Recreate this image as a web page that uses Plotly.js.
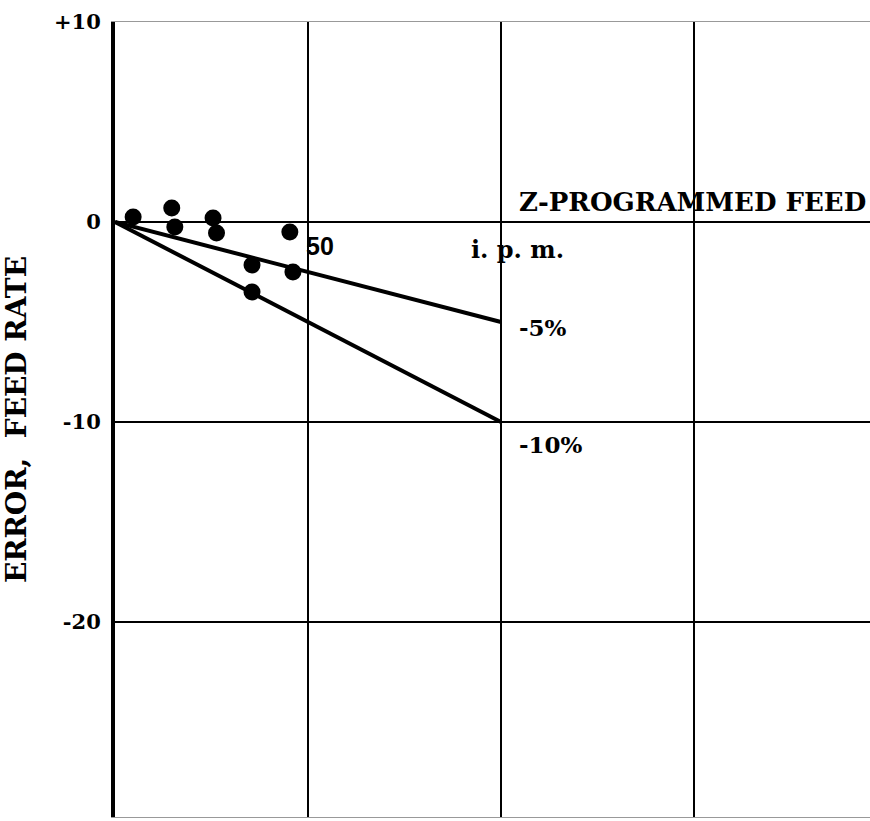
<!DOCTYPE html>
<html>
<head>
<meta charset="utf-8">
<script src="https://cdn.plot.ly/plotly-3.0.1.min.js"></script>
<style>html,body{margin:0;padding:0;background:#fff;}#chart{width:870px;height:821px;}</style>
</head>
<body>
<div id="chart"></div>
<script>
// Measured data points (feed in i.p.m., error in %)
const pointsX = [4.7, 14.7, 15.5, 25.4, 26.3, 45.3, 35.5, 46.1, 35.5];
const pointsY = [0.25, 0.7, -0.25, 0.2, -0.55, -0.5, -2.15, -2.5, -3.5];
// Reference error lines
const lineX = [0, 100];
const line5Y = [0, -5];
const line10Y = [0, -10];
const lineLabels = ['-5%', '-10%'];
// Axis ticks
const yTickVals = [-20, -10, 0, 10];
const yTickText = ['-20', '-10', '0', '+10'];
const xGridVals = [0, 50, 100, 150];

const serif = 'DejaVu Serif, serif';

const traces = [
  {x: lineX, y: line5Y, mode: 'lines', line: {color: '#000', width: 4}, hoverinfo: 'skip'},
  {x: lineX, y: line10Y, mode: 'lines', line: {color: '#000', width: 4}, hoverinfo: 'skip'},
  {x: pointsX, y: pointsY, mode: 'markers', marker: {color: '#000', size: 17}}
];

const layout = {
  width: 870, height: 821,
  margin: {l: 115, r: 0, t: 22, b: 4},
  paper_bgcolor: '#fff', plot_bgcolor: '#fff',
  showlegend: false,
  xaxis: {
    range: [0, 195.6],
    tickvals: xGridVals,
    showticklabels: false,
    showgrid: true, gridcolor: '#000', gridwidth: 2,
    zeroline: false,
    showline: true, mirror: true, linecolor: '#999', linewidth: 1,
    ticks: ''
  },
  yaxis: {
    range: [-29.75, 10],
    tickvals: yTickVals, ticktext: yTickText,
    showgrid: true, gridcolor: '#000', gridwidth: 2,
    zeroline: false,
    showline: true, linecolor: '#000', linewidth: 4,
    ticks: '', ticklabelstandoff: 6,
    tickfont: {family: serif, size: 21, color: '#000', weight: 'bold'},
    title: {text: 'ERROR,  FEED RATE', font: {family: serif, size: 28, color: '#000', weight: 'bold'}, standoff: 28}
  },
  annotations: [
    {x: 1, xref: 'paper', y: 0, yref: 'y', yanchor: 'bottom', xanchor: 'right', yshift: 3, xshift: -2,
     text: 'Z-PROGRAMMED FEED', showarrow: false,
     font: {family: serif, size: 26, color: '#000', weight: 'bold'}},
    {x: xGridVals[1], y: 0, xanchor: 'left', yanchor: 'top', xshift: -4, yshift: -8,
     text: '50', showarrow: false,
     font: {family: 'Liberation Sans, Arial, sans-serif', size: 25, color: '#000', weight: 'bold'}},
    {x: xGridVals[2], y: 0, xanchor: 'center', yanchor: 'top', xshift: 17, yshift: -11,
     text: 'i. p. m.', showarrow: false,
     font: {family: serif, size: 24, color: '#000', weight: 'bold'}},
    {x: lineX[1], y: line5Y[1], xanchor: 'left', yanchor: 'middle', xshift: 16, yshift: -5,
     text: lineLabels[0], showarrow: false,
     font: {family: serif, size: 23, color: '#000', weight: 'bold'}},
    {x: lineX[1], y: line10Y[1], xanchor: 'left', yanchor: 'middle', xshift: 16, yshift: -22,
     text: lineLabels[1], showarrow: false,
     font: {family: serif, size: 23, color: '#000', weight: 'bold'}}
  ]
};

Plotly.newPlot('chart', traces, layout, {displayModeBar: false, staticPlot: true});
</script>
</body>
</html>
